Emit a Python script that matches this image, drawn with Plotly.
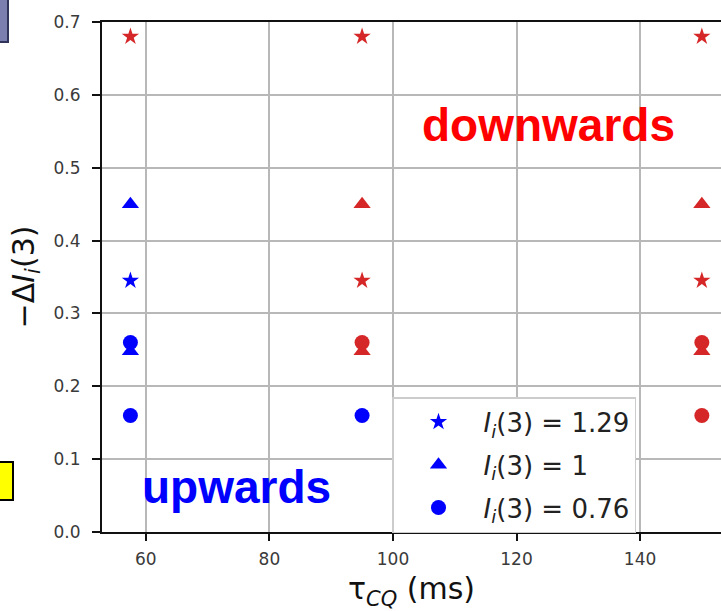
import plotly.graph_objects as go

RED = "#d62728"
BLUE = "#0000ff"

# data
tau_cq = [57.5, 95, 150, 57.5, 95, 150]
star_y = [0.68, 0.68, 0.68, 0.345, 0.345, 0.345]
star_c = [RED, RED, RED, BLUE, RED, RED]
tri_y = [0.45, 0.45, 0.45, 0.248, 0.248, 0.248]
tri_c = [BLUE, RED, RED, BLUE, RED, RED]
circ_y = [0.26, 0.26, 0.26, 0.16, 0.16, 0.16]
circ_c = [BLUE, RED, RED, BLUE, BLUE, RED]
labels = ["<i>I<sub>i</sub></i>(3) = 1.29", "<i>I<sub>i</sub></i>(3) = 1", "<i>I<sub>i</sub></i>(3) = 0.76"]
x_ticks = [60, 80, 100, 120, 140]
y_ticks = [0.0, 0.1, 0.2, 0.3, 0.4, 0.5, 0.6, 0.7]

fig = go.Figure()
series = [("star", star_y, star_c, 13), ("triangle-up", tri_y, tri_c, 15), ("circle", circ_y, circ_c, 15)]
for sym, ys, cs, sz in series:
    fig.add_trace(go.Scatter(x=tau_cq, y=ys, mode="markers", showlegend=False,
                             marker=dict(symbol=sym, size=sz, color=cs, line=dict(width=0))))
for i, (sym, ys, cs, sz) in enumerate(series):
    fig.add_trace(go.Scatter(x=[None], y=[None], mode="markers", name=labels[i],
                             legendgroup=f"g{i}",
                             marker=dict(symbol=sym, size=sz, color=BLUE, line=dict(width=0))))

L, T, B = 102, 22, 79
W, H = 721, 611
PW, PH = W - L, H - T - B

def px(x):
    return (x - L) / PW

def py(y):
    return (H - B - y) / PH

fig.add_annotation(x=px(548), y=py(125), xref="paper", yref="paper", text="<b>downwards</b>",
                   xanchor="center", yanchor="middle",
                   showarrow=False, font=dict(family="Liberation Sans", size=46, color="#ff0000"))
fig.add_annotation(x=px(236), y=py(487), xref="paper", yref="paper", text="<b>upwards</b>",
                   xanchor="center", yanchor="middle",
                   showarrow=False, font=dict(family="Liberation Sans", size=46, color="#0000ff"))

# slide artifacts around the crop
fig.add_shape(type="rect", xref="paper", yref="paper", x0=px(-5), x1=px(8), y0=py(42), y1=py(-5),
              fillcolor="#7a7fb0", line=dict(color="#30335a", width=2))
fig.add_shape(type="rect", xref="paper", yref="paper", x0=px(-5), x1=px(13), y0=py(500), y1=py(462),
              fillcolor="#ffff00", line=dict(color="#000000", width=2))

fig.update_layout(
    width=W, height=H, margin=dict(l=L, r=0, t=T, b=B),
    paper_bgcolor="white", plot_bgcolor="white",
    font=dict(family="DejaVu Sans", color="#222222"),
    legend=dict(x=px(392), y=py(397), xanchor="left", yanchor="top",
                bgcolor="white", bordercolor="#cccccc", borderwidth=1.5,
                font=dict(family="DejaVu Sans", size=26, color="#222222"),
                tracegroupgap=6, itemwidth=80),
    xaxis=dict(range=[52.9, 153.1], tickvals=x_ticks, showgrid=True, gridcolor="#b8b8b8", gridwidth=2,
               showline=True, linecolor="#111111", linewidth=2, mirror=True,
               ticks="outside", ticklen=7, tickwidth=2, tickcolor="#111111", ticklabelstandoff=4,
               tickfont=dict(size=17, color="#3a3a3a"), zeroline=False,
               title=dict(text="τ<sub><i>CQ</i></sub> (ms)", font=dict(size=30, color="#111111"), standoff=10)),
    yaxis=dict(range=[0, 0.7], tickvals=y_ticks, tickformat=".1f", showgrid=True, gridcolor="#b8b8b8", gridwidth=2,
               showline=True, linecolor="#111111", linewidth=2,
               ticks="outside", ticklen=8, tickwidth=2, tickcolor="#111111", ticklabelstandoff=8,
               tickfont=dict(size=17, color="#3a3a3a"), zeroline=False,
               title=dict(text="−Δ<i>I<sub>i</sub></i>(3)", font=dict(size=30, color="#111111"), standoff=10)),
)
fig.write_html("out.html")
